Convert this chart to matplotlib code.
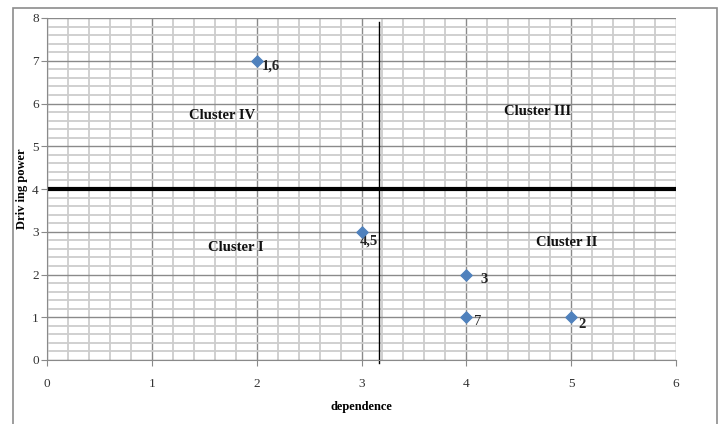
import matplotlib
matplotlib.use("Agg")
import matplotlib.pyplot as plt
import numpy as np
from matplotlib.patches import Rectangle

plt.rcParams['font.family'] = ['Liberation Serif', 'DejaVu Serif']

dependence = [2, 3, 4, 4, 5]
driving = [7, 3, 2, 1, 1]
point_labels = ["1,6", "4,5", "3", "7", "2"]
label_offsets = [(0.05, -0.12), (-0.02, -0.22), (0.13, -0.12), (0.07, -0.1), (0.07, -0.17)]
label_bold = [True, True, True, False, True]

cluster_names = ["Cluster IV", "Cluster III", "Cluster I", "Cluster II"]
cluster_x = [1.67, 4.68, 1.80, 4.96]
cluster_y = [5.71, 5.82, 2.64, 2.74]

div_x = 3.17
div_y = 4

fig = plt.figure(figsize=(7.22, 4.24), dpi=100)
fig.patches.append(Rectangle((13/722, -0.1), (717-13)/722, 1.1 - 8/424,
                             transform=fig.transFigure, fill=False,
                             edgecolor='#8c8c8c', linewidth=1.2))
ax = fig.add_axes([47/722, 64/424, 629/722, 342/424])

ax.set_xlim(0, 6)
ax.set_ylim(0, 8)
ax.set_xticks(np.arange(0, 7, 1))
ax.set_yticks(np.arange(0, 9, 1))
ax.set_xticks(np.arange(0, 6.01, 0.2), minor=True)
ax.set_yticks(np.arange(0, 8.01, 0.2), minor=True)
ax.grid(which='minor', color='#cdcdcd', linewidth=1.3)
ax.grid(which='major', color='#8a8a8a', linewidth=1.0)
ax.set_axisbelow(True)
for s in ax.spines.values():
    s.set_visible(False)
ax.spines['left'].set_visible(True)
ax.spines['bottom'].set_visible(True)
ax.spines['left'].set_color('#8a8a8a')
ax.spines['bottom'].set_color('#8a8a8a')
ax.tick_params(which='major', length=4, color='#8a8a8a', labelsize=9.5,
               labelcolor='#333333', direction='out')
ax.tick_params(which='minor', length=0)
ax.tick_params(axis='x', pad=9)
ax.tick_params(axis='y', pad=2)

ax.axhline(div_y, color='black', linewidth=3)
ax.plot([div_x, div_x], [-0.07, 7.9], color='black', linewidth=1, clip_on=False)

ax.scatter(dependence, driving, marker='D', s=32, color='#4F81BD', zorder=5)
for x, y, t, (dx, dy), b in zip(dependence, driving, point_labels, label_offsets, label_bold):
    ax.text(x + dx, y + dy, t, fontsize=10.5, fontweight='bold' if b else 'normal',
            color='#222222', ha='left', va='center')

for name, x, y in zip(cluster_names, cluster_x, cluster_y):
    ax.text(x, y, name, fontsize=10.5, fontweight='bold', color='#111111',
            ha='center', va='center')

ax.set_xlabel("dependence", fontsize=9, fontweight='bold', labelpad=8)
ax.set_ylabel("Driv ing power", fontsize=9, fontweight='bold', labelpad=3)

fig.savefig("out.png", dpi=100)
